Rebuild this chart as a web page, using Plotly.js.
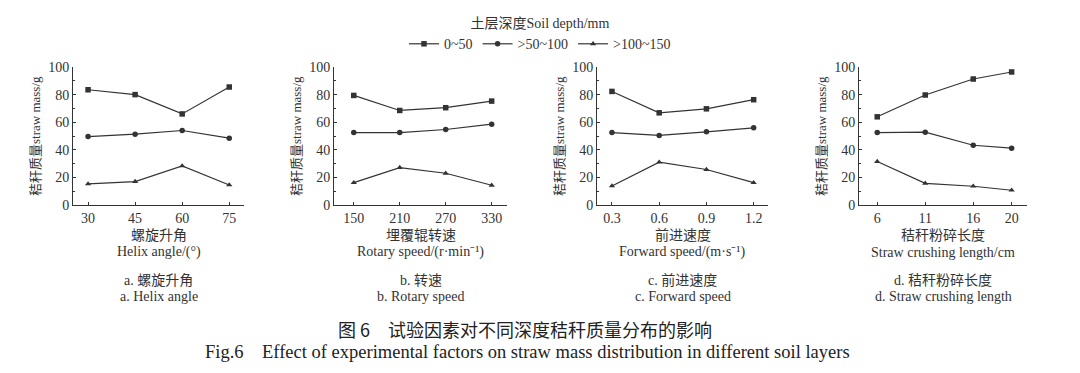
<!DOCTYPE html>
<html>
<head>
<meta charset="utf-8">
<script src="https://cdn.plot.ly/plotly-3.0.1.min.js"></script>
<style>html,body{margin:0;padding:0;background:#fff;}#chart{width:1080px;height:373px;}</style>
</head>
<body>
<div id="chart"></div>
<script>
// ---- data ----
const seriesNames = ["0~50", ">50~100", ">100~150"];
const helixAngle = [30, 45, 60, 75];
const rotarySpeed = [150, 210, 270, 330];
const forwardSpeed = [0.3, 0.6, 0.9, 1.2];
const forwardSpeedLabels = ["0.3", "0.6", "0.9", "1.2"];
const crushLength = [6, 11, 16, 20];

const helixS1 = [83.5, 80.0, 66.0, 85.5];
const helixS2 = [49.6, 51.3, 54.0, 48.4];
const helixS3 = [15.3, 17.0, 28.3, 14.5];

const rotaryS1 = [79.4, 68.5, 70.5, 75.3];
const rotaryS2 = [52.5, 52.5, 54.7, 58.6];
const rotaryS3 = [16.2, 27.1, 23.0, 14.3];

const forwardS1 = [82.3, 66.8, 69.7, 76.3];
const forwardS2 = [52.5, 50.4, 53.0, 55.9];
const forwardS3 = [13.8, 31.0, 25.7, 16.2];

const crushS1 = [63.9, 79.7, 91.3, 96.4];
const crushS2 = [52.5, 52.8, 43.3, 41.2];
const crushS3 = [31.5, 15.7, 13.6, 10.7];

const yTitle = "秸秆质量straw mass/g";
const xTitlesCn = ["螺旋升角", "埋覆辊转速", "前进速度", "秸秆粉碎长度"];
const xTitlesEn = ["Helix angle/(°)", "Rotary speed/(r·min⁻¹)", "Forward speed/(m·s⁻¹)", "Straw crushing length/cm"];
const captionsCn = ["a. 螺旋升角", "b. 转速", "c. 前进速度", "d. 秸秆粉碎长度"];
const captionsEn = ["a. Helix angle", "b. Rotary speed", "c. Forward speed", "d. Straw crushing length"];
const legendTitle = "土层深度Soil depth/mm";
const figCaptionCn = "图 6　试验因素对不同深度秸秆质量分布的影响";
const figCaptionEn = "Fig.6　Effect of experimental factors on straw mass distribution in different soil layers";

// ---- styling ----
const FONT = "Liberation Serif, 'Times New Roman', 'Noto Sans CJK SC', serif";
const TXT = "#333";
const LINE = "#333";
const FS = 14;
const symbols = ["square", "circle", "triangle-up"];
const W = 1080, H = 373;

const panels = [
  {x: helixAngle, ys: [helixS1, helixS2, helixS3], range: [25.2, 79.7], ticktext: helixAngle.map(String), px: [73, 244]},
  {x: rotarySpeed, ys: [rotaryS1, rotaryS2, rotaryS3], range: [124.2, 350], ticktext: rotarySpeed.map(String), px: [334, 507]},
  {x: forwardSpeed, ys: [forwardS1, forwardS2, forwardS3], range: [0.205, 1.291], ticktext: forwardSpeedLabels, px: [597, 768]},
  {x: crushLength, ys: [crushS1, crushS2, crushS3], range: [4.1, 21.6], ticktext: crushLength.map(String), px: [859, 1027]}
];
const plotTop = 67, plotBottom = 205;
const py = p => 1 - p / H;

const data = [];
const layout = {
  width: W, height: H,
  margin: {l: 0, r: 0, t: 0, b: 0},
  paper_bgcolor: "#fff", plot_bgcolor: "#fff",
  font: {family: FONT, size: FS, color: TXT},
  showlegend: true,
  legend: {
    orientation: "h", x: 0.5, xanchor: "center", y: py(10), yanchor: "top",
    title: {text: legendTitle, side: "top center", font: {size: FS, color: TXT}},
    font: {size: FS, color: TXT}, itemwidth: 30, tracegroupgap: 0,
    bgcolor: "rgba(0,0,0,0)"
  },
  annotations: []
};

panels.forEach((p, i) => {
  const n = i + 1;
  const xa = "xaxis" + (n === 1 ? "" : n);
  const ya = "yaxis" + (n === 1 ? "" : n);
  const xr = "x" + (n === 1 ? "" : n);
  const yr = "y" + (n === 1 ? "" : n);
  p.ys.forEach((ys, k) => {
    data.push({
      type: "scatter", mode: "lines+markers", x: p.x, y: ys,
      xaxis: xr, yaxis: yr, name: seriesNames[k], legendgroup: "g" + k,
      showlegend: i === 0,
      line: {color: LINE, width: 1.2},
      marker: {symbol: symbols[k], size: 5.5, color: LINE}
    });
  });
  layout[xa] = {
    domain: [p.px[0] / W, p.px[1] / W], anchor: yr, range: p.range,
    tickmode: "array", tickvals: p.x, ticktext: p.ticktext,
    ticks: "inside", ticklen: 3, tickcolor: LINE, showline: true, linecolor: LINE, linewidth: 1,
    showgrid: false, zeroline: false, tickfont: {size: FS, color: TXT}, fixedrange: true
  };
  layout[ya] = {
    domain: [py(plotBottom), py(plotTop)], anchor: xr, range: [0, 100],
    tickvals: [0, 20, 40, 60, 80, 100],
    ticks: "inside", ticklen: 3, tickcolor: LINE, showline: true, linecolor: LINE, linewidth: 1,
    minor: {tickvals: [10, 30, 50, 70, 90], ticks: "inside", ticklen: 2, tickcolor: LINE},
    showgrid: false, zeroline: false, tickfont: {size: FS, color: TXT}, fixedrange: true
  };
  const cx = (p.px[0] + p.px[1]) / 2 / W;
  layout.annotations.push(
    {text: yTitle, xref: xr + " domain", yref: yr + " domain", x: 0, y: 0.5, xshift: -38,
     xanchor: "center", yanchor: "middle", textangle: -90, showarrow: false, font: {size: 13, color: TXT}},
    {text: xTitlesCn[i], xref: "paper", yref: "paper", x: cx, y: py(235), xanchor: "center", yanchor: "middle",
     showarrow: false, font: {size: FS, color: TXT}},
    {text: xTitlesEn[i], xref: "paper", yref: "paper", x: cx, y: py(252), xanchor: "center", yanchor: "middle",
     showarrow: false, font: {size: FS, color: TXT}},
    {text: captionsCn[i], xref: "paper", yref: "paper", x: cx, y: py(280), xanchor: "center", yanchor: "middle",
     showarrow: false, font: {size: FS, color: TXT}},
    {text: captionsEn[i], xref: "paper", yref: "paper", x: cx, y: py(296), xanchor: "center", yanchor: "middle",
     showarrow: false, font: {size: FS, color: TXT}}
  );
});

layout.annotations.push(
  {text: figCaptionCn, xref: "paper", yref: "paper", x: 525 / W, y: py(329), xanchor: "center", yanchor: "middle",
   showarrow: false, font: {size: 18, color: "#222", family: "'Noto Sans CJK SC', " + FONT}},
  {text: figCaptionEn, xref: "paper", yref: "paper", x: 527 / W, y: py(352), xanchor: "center", yanchor: "middle",
   showarrow: false, font: {size: 18.5, color: "#222"}}
);

Plotly.newPlot("chart", data, layout, {staticPlot: true, displayModeBar: false});
</script>
</body>
</html>
